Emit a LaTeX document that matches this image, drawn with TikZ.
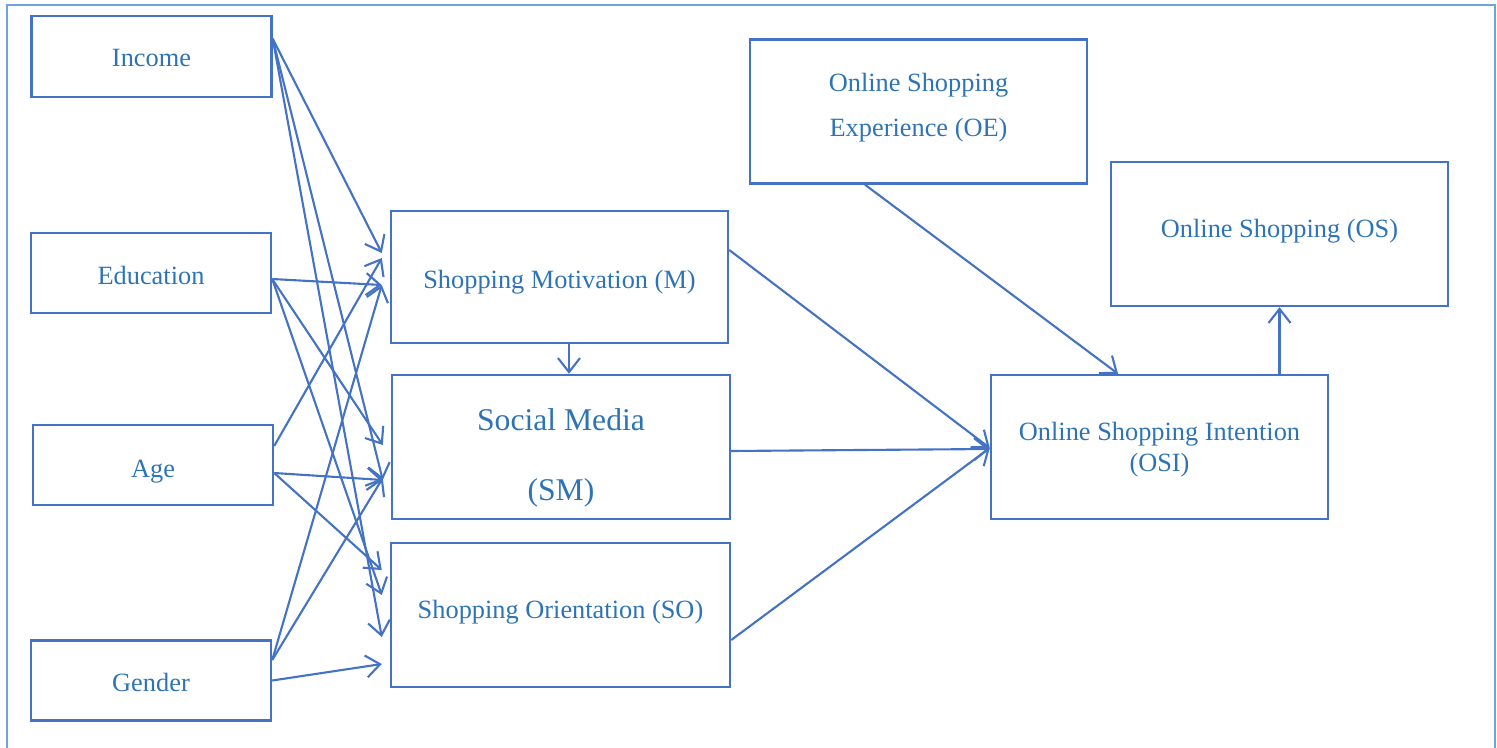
\documentclass[tikz,border=0pt]{standalone}
\usepackage{fontspec}
\setmainfont{Liberation Serif}
\usetikzlibrary{
    arrows.meta,
    positioning,
    calc
}
\definecolor{smBlue}{HTML}{4472C4}
\definecolor{smText}{HTML}{2E74B5}
\definecolor{smFrame}{HTML}{6FA3DC}
\tikzset{
    smBox/.style={
        draw=smBlue,
        line width=1.4pt,
        minimum width=6.74cm,
        minimum height=2.88cm,
        inner sep=0pt,
        align=center,
        text=smText,
        text depth=0pt,
        font=\fontsize{15}{18}\selectfont
    },
    smFactor/.style={
        smBox,
        minimum width=4.8cm,
        minimum height=1.6cm
    },
    smArrow/.style={-{Straight Barb[length=2.8mm,width=4.4mm]},line width=1.2pt,draw=smBlue}
}

\begin{document}
\begin{tikzpicture}
    \useasboundingbox (0,0) rectangle (29.94,14.94);
    % outer frame
    \draw[smFrame,line width=1pt] (0.14,-0.5) -- (0.14,14.84) -- (29.9,14.84) -- (29.9,-0.5);

    % demographic factors
    \node[smFactor,minimum height=1.62cm,text height=0.41cm] (inc) at (3.03,13.81) {Income};
    \node[smFactor,text height=0.44cm] (edu) at (3.02,9.48) {Education};
    \node[smFactor,text height=0.48cm] (age) at (3.06,5.64) {Age};
    \node[smFactor,text height=0.45cm] (gen) at (3.02,1.33) {Gender};

    % middle blocks
    \node[smBox,minimum height=2.64cm,text height=0.44cm] (mot) at (11.19,9.40)
        {Shopping Motivation (M)};
    \node[smBox,minimum width=6.76cm,text height=2.15cm,
        font=\fontsize{18}{39.7}\selectfont] (sm) at (11.22,6.00) {Social Media\\(SM)};
    \node[smBox,minimum width=6.78cm,text height=0.12cm] (so) at (11.21,2.64)
        {Shopping Orientation (SO)};

    % right blocks
    \node[smBox,text height=1.01cm,font=\fontsize{15}{25.9}\selectfont]
        (oe) at (18.37,12.71) {Online Shopping\\Experience (OE)};
    \node[smBox,text height=0.99cm,font=\fontsize{15}{17.6}\selectfont]
        (osi) at (23.19,6.00) {Online Shopping Intention\\(OSI)};
    \node[smBox,text height=0.12cm] (os) at (25.59,10.26) {Online Shopping (OS)};

    % start points on the factors
    \coordinate (incOut) at ([yshift=-0.48cm]inc.north east);
    \coordinate (eduOut) at ([yshift=-0.12cm]edu.east);
    \coordinate (ageUp) at ([yshift=0.38cm]age.east);
    \coordinate (ageLow) at ([yshift=-0.16cm]age.east);
    \coordinate (genUp) at ([yshift=0.41cm]gen.east);
    \coordinate (genLow) at (gen.east);

    % factor arrows
    \draw[smArrow] (incOut) -- ([xshift=-0.16cm,yshift=0.48cm]mot.west);
    \draw[smArrow] (incOut) -- ([xshift=-0.16cm,yshift=-0.66cm]sm.west);
    \draw[smArrow] (incOut) -- ([xshift=-0.16cm,yshift=-0.44cm]so.west);
    \draw[smArrow] (eduOut) -- ([xshift=-0.16cm,yshift=-0.16cm]mot.west);
    \draw[smArrow] (eduOut) -- ([xshift=-0.16cm,yshift=0.04cm]sm.west);
    \draw[smArrow] (eduOut) -- ([xshift=-0.16cm,yshift=0.40cm]so.west);
    \draw[smArrow] (ageUp) -- ([xshift=-0.16cm,yshift=0.38cm]mot.west);
    \draw[smArrow] (ageLow) -- ([xshift=-0.16cm,yshift=-0.66cm]sm.west);
    \draw[smArrow] (ageLow) -- ([xshift=-0.16cm,yshift=0.90cm]so.west);
    \draw[smArrow] (genUp) -- ([xshift=-0.16cm,yshift=-0.16cm]mot.west);
    \draw[smArrow] (genUp) -- ([xshift=-0.16cm,yshift=-0.62cm]sm.west);
    \draw[smArrow] (genLow) -- ([xshift=-0.16cm,yshift=-0.98cm]so.west);

    % arrows to the intention
    \draw[smArrow] ([xshift=0.19cm]mot.south) -- ([xshift=0.19cm]mot.south |- sm.north);
    \draw[smArrow] ([yshift=0.54cm]mot.east) -- ([yshift=-0.02cm]osi.west);
    \draw[smArrow] ([yshift=-0.08cm]sm.east) -- ([yshift=-0.04cm]osi.west);
    \draw[smArrow] ([yshift=-0.50cm]so.east) -- ([yshift=-0.02cm]osi.west);
    \draw[smArrow] ([xshift=-1.07cm]oe.south) -- ([xshift=-0.83cm]osi.north);
    \draw[smArrow] (osi.north -| os.south) -- (os.south);
\end{tikzpicture}
\end{document}
